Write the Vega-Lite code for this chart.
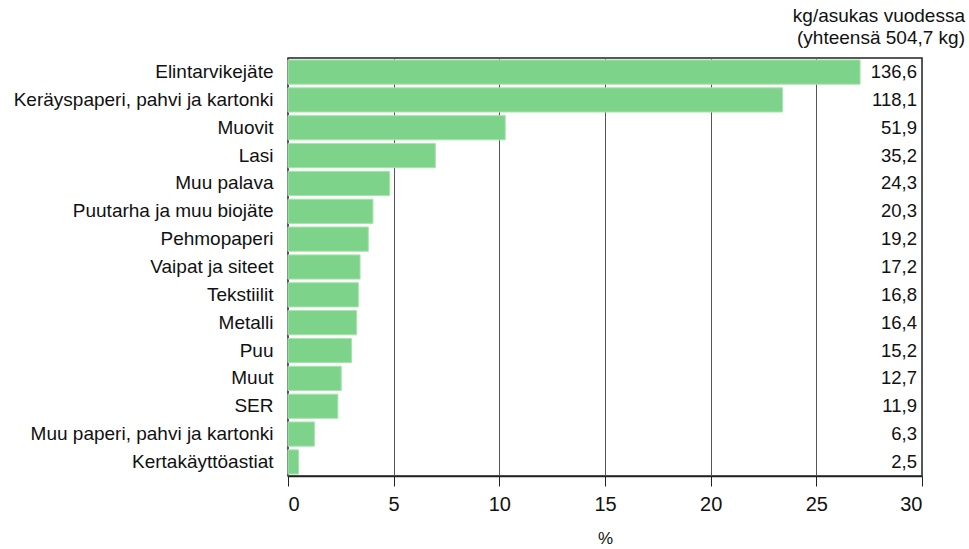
{
  "$schema": "https://vega.github.io/schema/vega-lite/v6.json",
  "autosize": {"type": "none"},
  "padding": {"left": 288, "top": 58, "right": 47, "bottom": 73},
  "width": 634,
  "height": 418,
  "background": "white",
  "config": {
    "font": "Liberation Sans",
    "view": {"stroke": "#222", "strokeWidth": 1.5}
  },
  "title": {
    "text": ["kg/asukas vuodessa", "(yhteensä 504,7 kg)"],
    "anchor": "end",
    "frame": "group",
    "dx": 43,
    "offset": 10,
    "fontSize": 19,
    "fontWeight": "normal",
    "color": "#111",
    "lineHeight": 22,
    "font": "Liberation Sans"
  },
  "data": {
    "values": [
      {"jae": "Elintarvikejäte", "pct": 27.07, "kg": "136,6"},
      {"jae": "Keräyspaperi, pahvi ja kartonki", "pct": 23.40, "kg": "118,1"},
      {"jae": "Muovit", "pct": 10.28, "kg": "51,9"},
      {"jae": "Lasi", "pct": 6.97, "kg": "35,2"},
      {"jae": "Muu palava", "pct": 4.81, "kg": "24,3"},
      {"jae": "Puutarha ja muu biojäte", "pct": 4.02, "kg": "20,3"},
      {"jae": "Pehmopaperi", "pct": 3.80, "kg": "19,2"},
      {"jae": "Vaipat ja siteet", "pct": 3.41, "kg": "17,2"},
      {"jae": "Tekstiilit", "pct": 3.33, "kg": "16,8"},
      {"jae": "Metalli", "pct": 3.25, "kg": "16,4"},
      {"jae": "Puu", "pct": 3.01, "kg": "15,2"},
      {"jae": "Muut", "pct": 2.52, "kg": "12,7"},
      {"jae": "SER", "pct": 2.36, "kg": "11,9"},
      {"jae": "Muu paperi, pahvi ja kartonki", "pct": 1.25, "kg": "6,3"},
      {"jae": "Kertakäyttöastiat", "pct": 0.50, "kg": "2,5"}
    ]
  },
  "encoding": {
    "y": {
      "field": "jae",
      "type": "nominal",
      "sort": null,
      "scale": {"paddingInner": 0.13, "paddingOuter": 0.07},
      "axis": {
        "title": null,
        "ticks": false,
        "domain": false,
        "labelFontSize": 19,
        "labelColor": "#111",
        "labelPadding": 15,
        "labelLimit": 320
      }
    }
  },
  "layer": [
    {
      "mark": {"type": "bar", "color": "#7dd389", "stroke": "#a8e4ae", "strokeWidth": 1},
      "encoding": {
        "x": {
          "field": "pct",
          "type": "quantitative",
          "scale": {"domain": [0, 30], "nice": false},
          "axis": {
            "title": "%",
            "titleFontSize": 17,
            "titleFontWeight": "normal",
            "titleColor": "#111",
            "titlePadding": 16,
            "values": [0, 5, 10, 15, 20, 25, 30],
            "labelFontSize": 20,
            "labelColor": "#111",
            "labelPadding": 8,
            "tickSize": 10,
            "tickColor": "#222",
            "domainColor": "#222",
            "domainWidth": 1.5,
            "grid": true,
            "gridColor": "#555",
            "gridWidth": 1
          }
        }
      }
    },
    {
      "mark": {"type": "text", "align": "right", "dx": -5, "fontSize": 18.5, "color": "#111"},
      "encoding": {
        "x": {"datum": 30, "type": "quantitative"},
        "text": {"field": "kg"}
      }
    }
  ]
}
